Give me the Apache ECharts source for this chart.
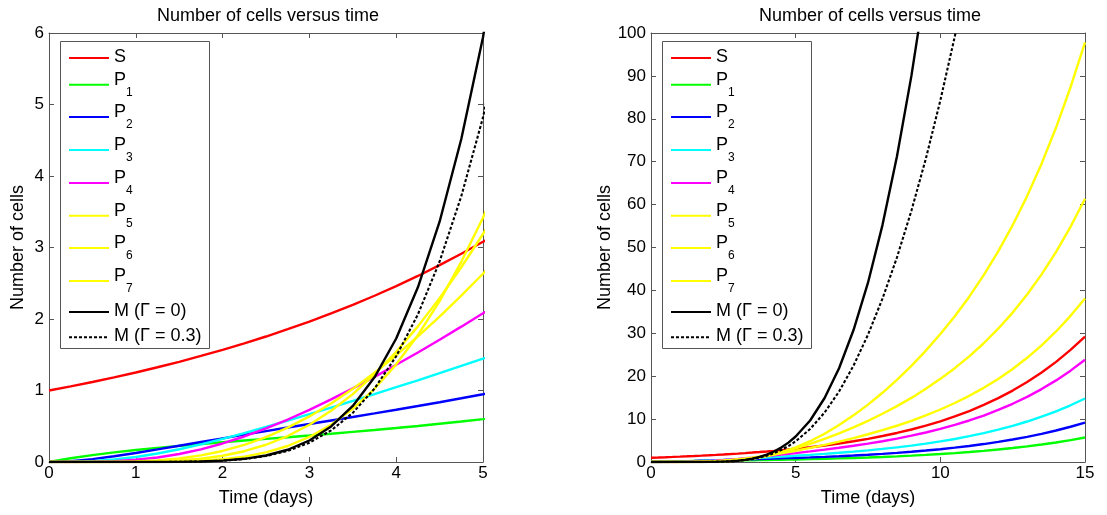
<!DOCTYPE html>
<html>
<head>
<meta charset="utf-8">
<script src="https://cdn.jsdelivr.net/npm/echarts@6/dist/echarts.min.js"></script>
<style>
html,body{margin:0;padding:0;background:#fff;}
#c{width:1107px;height:515px;}
</style>
</head>
<body>
<div id="c"></div>
<script>
// time (days)
const T = [0,0.25,0.5,0.75,1,1.25,1.5,1.75,2,2.25,2.5,2.75,3,3.25,3.5,3.75,4,4.25,4.5,4.75,5,
           5.5,6,6.5,7,7.5,8,8.5,9,9.5,10,10.5,11,11.5,12,12.5,13,13.5,14,14.5,15];
// number of cells
const S  = [1.000,1.058,1.119,1.184,1.252,1.325,1.401,1.483,1.568,1.659,1.755,1.857,1.964,2.078,2.198,2.325,2.460,2.602,2.753,2.912,3.080,
            3.447,3.857,4.317,4.831,5.406,6.050,6.770,7.576,8.478,9.488,10.62,11.88,13.30,14.88,16.65,18.63,20.85,23.34,26.12,29.22];
const P1 = [0,0.052,0.096,0.134,0.167,0.198,0.225,0.251,0.276,0.300,0.324,0.347,0.371,0.396,0.422,0.448,0.475,0.504,0.535,0.566,0.600,
            0.672,0.752,0.842,0.943,1.056,1.181,1.322,1.479,1.655,1.852,2.074,2.321,2.596,2.906,3.251,3.639,4.071,4.557,5.099,5.706];
const P2 = [0,0.0115,0.0403,0.0801,0.1264,0.1763,0.2277,0.2797,0.3311,0.382,0.4324,0.4823,0.5313,0.5808,0.6299,0.6799,0.7306,0.7827,0.8362,0.8916,0.948,
            1.070,1.203,1.351,1.515,1.697,1.900,2.128,2.382,2.665,2.983,3.338,3.736,4.181,4.679,5.236,5.860,6.558,7.339,8.212,9.190];
const P3 = [0,0.0017,0.0119,0.0344,0.0703,0.1189,0.1784,0.2471,0.3229,0.4043,0.4898,0.5785,0.6688,0.7615,0.8546,0.9495,1.046,1.143,1.242,1.344,1.446,
            1.662,1.892,2.142,2.415,2.715,3.047,3.417,3.828,4.288,4.800,5.373,6.015,6.731,7.534,8.431,9.435,10.56,11.82,13.22,14.80];
const P4 = [0,0.0002,0.0027,0.0114,0.0306,0.0635,0.1121,0.1774,0.2592,0.3568,0.4688,0.5941,0.7298,0.8764,1.030,1.191,1.359,1.532,1.710,1.893,2.079,
            2.466,2.877,3.313,3.782,4.290,4.845,5.456,6.131,6.879,7.712,8.640,9.677,10.83,12.13,13.57,15.19,17.00,19.02,21.29,23.83];
const P5 = [0,0,0.0002,0.0021,0.0083,0.0226,0.0491,0.0920,0.1544,0.2390,0.3475,0.4808,0.6376,0.8192,1.023,1.248,1.492,1.756,2.034,2.328,2.633,
            3.281,4.001,4.765,5.584,6.463,7.418,8.452,9.597,10.85,12.24,13.75,15.43,17.29,19.37,21.69,24.29,27.19,30.43,34.07,38.12];
const P6 = [0,0,0,0.0004,0.0024,0.0081,0.0210,0.0457,0.0872,0.1508,0.2413,0.3634,0.5203,0.7160,0.9498,1.225,1.541,1.897,2.292,2.724,3.189,
            4.214,5.396,6.683,8.084,9.599,11.24,13.02,14.94,17.06,19.38,21.87,24.62,27.68,31.07,34.83,39.04,43.73,48.97,54.82,61.37];
const P7 = [0,0,0,0,0.0004,0.0020,0.0066,0.0172,0.0381,0.0751,0.1345,0.2239,0.3502,0.5216,0.7440,1.024,1.366,1.774,2.250,2.800,3.416,
            4.845,6.597,8.609,10.87,13.38,16.13,19.13,22.41,25.97,29.84,33.99,38.54,43.56,49.08,55.20,61.98,69.54,77.96,87.36,97.84];
const M0 = [0,0,0,0,0.0001,0.0006,0.0024,0.0076,0.0197,0.0446,0.0912,0.1715,0.3005,0.4970,0.7835,1.184,1.727,2.444,3.361,4.517,5.940,
            9.67,14.92,21.86,30.76,41.79,55.22,71.20,90.00,111.8,136.8,null,null,null,null,null,null,null,null,null,null];
const M03 = [0,0,0,0,0,0,0.0023,0.0072,0.0185,0.0416,0.0840,0.1558,0.2700,0.4414,0.6870,1.027,1.479,2.064,2.804,3.718,4.820,
            7.68,11.53,16.43,22.47,29.67,38.08,47.67,58.57,70.72,84.27,99.20,115.8,null,null,null,null,null,null,null,null];

const NAMES  = ['S','P1','P2','P3','P4','P5','P6','P7','M (\u0393 = 0)','M (\u0393 = 0.3)'];
const VALUES = [S,P1,P2,P3,P4,P5,P6,P7,M0,M03];
const COLORS = ['#ff0000','#00ff00','#0000ff','#00ffff','#ff00ff','#ffff00','#ffff00','#ffff00','#000000','#000000'];

const TITLE = 'Number of cells versus time';
const XNAME = 'Time (days)';
const YNAME = 'Number of cells';
const X_MAX = [5, 15], X_INT = [1, 5];
const Y_MAX = [6, 100], Y_INT = [1, 10];

const FONT = '"Liberation Sans", Arial, Helvetica, sans-serif';
const AX = '#555';
const GRID_LEFT = [49, 651];
const LEG_LEFT = [68, 670];
const LEG_Y = [56, 84.7, 117, 150, 183, 215.7, 248, 281, 310, 335.3];

const chart = echarts.init(document.getElementById('c'), null, {renderer: 'canvas'});

const grids = GRID_LEFT.map(l => ({left: l, top: 33, width: 434, height: 429, containLabel: false}));

function mkX(g, top) {
  return {
    gridIndex: g, type: 'value', min: 0, max: X_MAX[g], interval: X_INT[g],
    position: top ? 'top' : 'bottom',
    axisLine: {show: true, onZero: false, lineStyle: {color: AX, width: 1}},
    axisTick: {show: true, inside: true, length: 5, lineStyle: {color: AX}},
    axisLabel: {show: !top, color: '#000', fontSize: 17, fontFamily: FONT, margin: 3},
    splitLine: {show: false},
    name: top ? '' : XNAME, nameLocation: 'middle', nameGap: 27,
    nameTextStyle: {color: '#000', fontSize: 18, fontFamily: FONT}
  };
}
function mkY(g, right) {
  return {
    gridIndex: g, type: 'value', min: 0, max: Y_MAX[g], interval: Y_INT[g],
    position: right ? 'right' : 'left',
    axisLine: {show: true, onZero: false, lineStyle: {color: AX, width: 1}},
    axisTick: {show: true, inside: true, length: 5, lineStyle: {color: AX}},
    axisLabel: {show: !right, color: '#000', fontSize: 17, fontFamily: FONT, margin: 5},
    splitLine: {show: false},
    name: right ? '' : YNAME, nameLocation: 'middle', nameGap: g === 0 ? 22 : 34,
    nameTextStyle: {color: '#000', fontSize: 18, fontFamily: FONT}
  };
}

const series = [];
[0, 1].forEach(g => {
  NAMES.forEach((n, i) => {
    series.push({
      type: 'line', name: n, xAxisIndex: g, yAxisIndex: g,
      data: T.map((t, j) => [t, VALUES[i][j]]),
      symbol: 'none', showSymbol: false, clip: true, animation: false,
      lineStyle: {color: COLORS[i], width: i === 9 ? 2.1 : 2.4, type: i === 9 ? [3, 2] : 'solid'},
      itemStyle: {color: COLORS[i]}
    });
  });
});

const rich = {
  m: {fontSize: 18, lineHeight: 20, fontFamily: FONT, color: '#000', verticalAlign: 'top'},
  s: {fontSize: 12, lineHeight: 28, fontFamily: FONT, color: '#000', verticalAlign: 'bottom'}
};
const legends = [];
[0, 1].forEach(g => {
  NAMES.forEach((n, i) => {
    const sub = /^P\d$/.test(n);
    legends.push({
      data: [n], left: LEG_LEFT[g], top: LEG_Y[i] - (sub ? 14 : 8),
      orient: 'vertical', padding: 0, itemGap: 0, itemWidth: 40, itemHeight: 12,
      selectedMode: false,
      itemStyle: {opacity: 0},
      formatter: nm => /^P\d$/.test(nm) ? '{m|P}{s|' + nm.slice(1) + '}' : '{m|' + nm + '}',
      textStyle: {rich: rich, fontFamily: FONT, fontSize: 18, color: '#000'}
    });
  });
});

const option = {
  backgroundColor: '#fff',
  animation: false,
  title: [
    {text: TITLE, left: 152, top: 2, textStyle: {fontSize: 18, fontWeight: 'normal', color: '#000', fontFamily: FONT}},
    {text: TITLE, left: 754, top: 2, textStyle: {fontSize: 18, fontWeight: 'normal', color: '#000', fontFamily: FONT}}
  ],
  grid: grids,
  xAxis: [mkX(0, false), mkX(1, false), mkX(0, true), mkX(1, true)],
  yAxis: [mkY(0, false), mkY(1, false), mkY(0, true), mkY(1, true)],
  legend: legends,
  graphic: [
    {type: 'rect', z: 3, shape: {x: 60.5, y: 41.5, width: 149, height: 307}, style: {fill: '#fff', stroke: AX, lineWidth: 1}},
    {type: 'rect', z: 3, shape: {x: 662.5, y: 41.5, width: 149, height: 307}, style: {fill: '#fff', stroke: AX, lineWidth: 1}}
  ],
  series: series
};
chart.setOption(option);
</script>
</body>
</html>
